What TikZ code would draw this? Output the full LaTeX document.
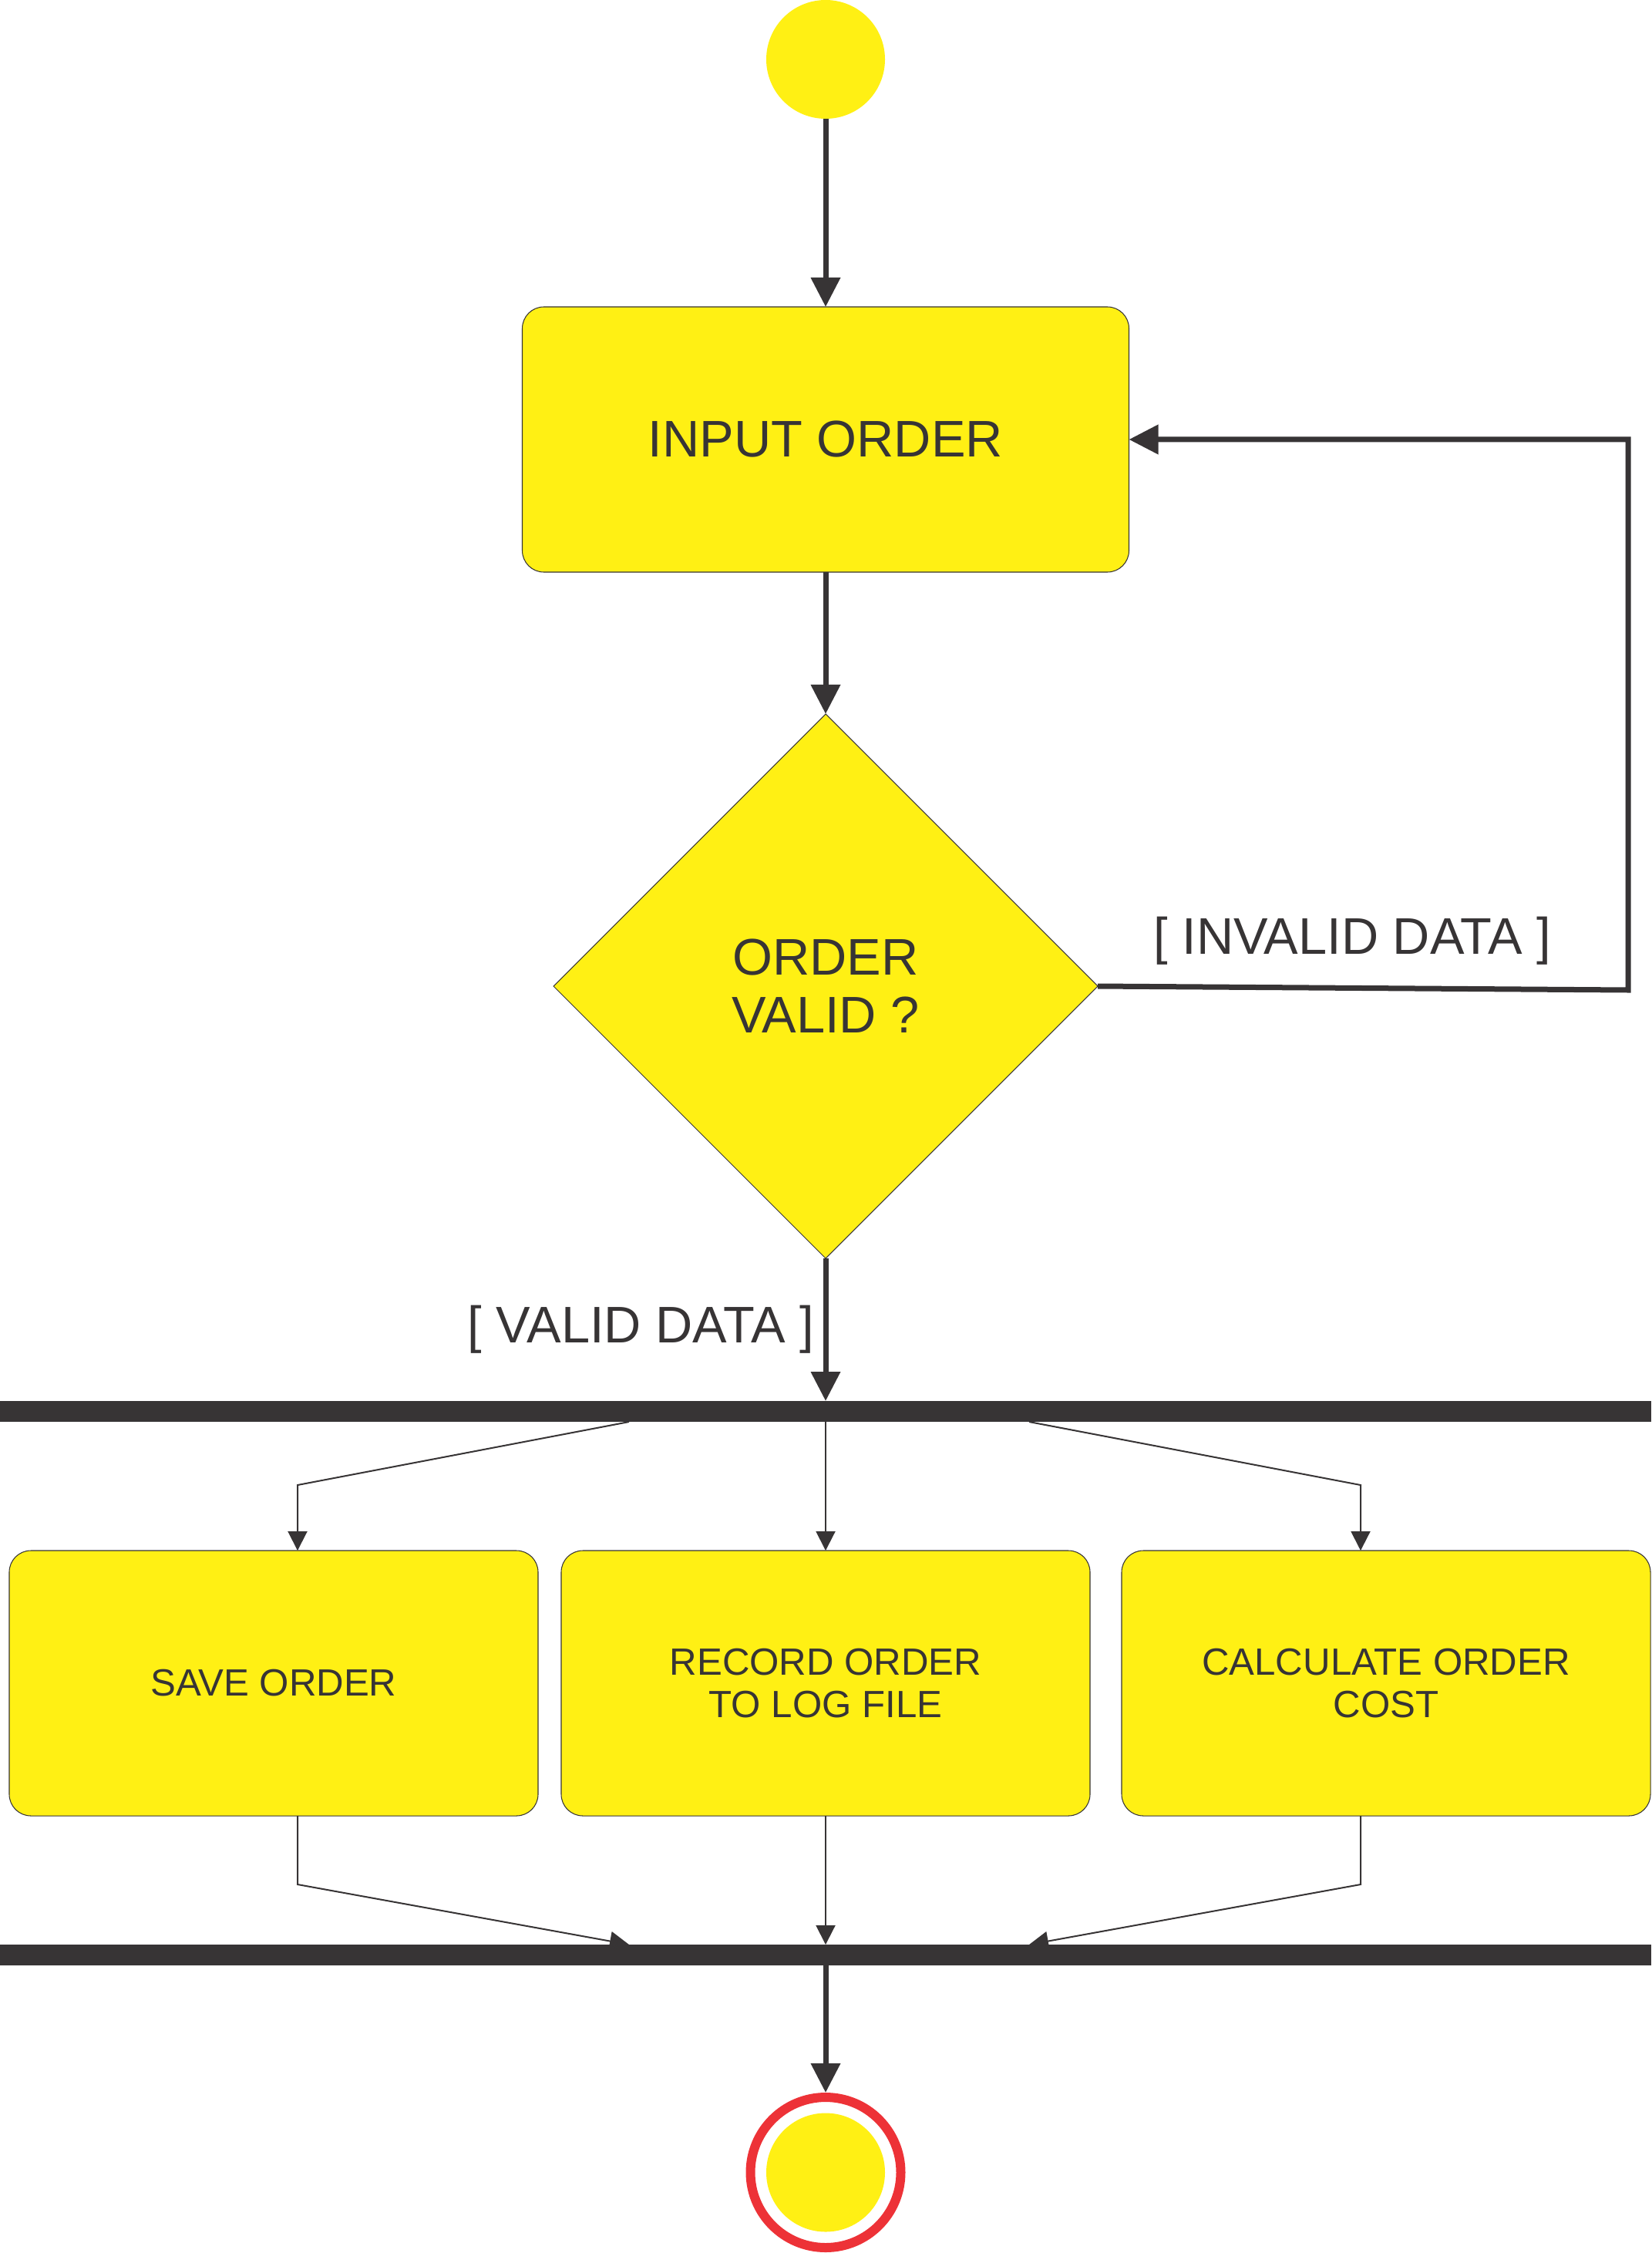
\documentclass[tikz,border=0pt]{standalone}
\usepackage{fontspec}
\setmainfont{Liberation Sans}
\usetikzlibrary{shapes.geometric, arrows.meta, positioning}

\definecolor{umlyellow}{HTML}{FFF014}
\definecolor{umlgray}{HTML}{373435}
\definecolor{umlred}{HTML}{ED3237}

\begin{document}
\begin{tikzpicture}[align=center, text=umlgray,
    startnode/.style={circle, fill=umlyellow, minimum size=1.54cm, inner sep=0pt, outer sep=0pt},
    actbox/.style={draw=umlgray, line width=0.3pt, rectangle, rounded corners=0.28cm, fill=umlyellow, inner sep=0pt, outer sep=0pt},
    syncbar/.style={rectangle, fill=umlgray, minimum width=21.42cm, minimum height=0.27cm, inner sep=0pt, outer sep=0pt},
    bigflow/.style={-{Triangle[length=0.38cm, width=0.37cm]}, line width=0.07cm, umlgray},
    thinflow/.style={-{Triangle[length=0.25cm, width=0.25cm]}, line width=0.02cm, umlgray},
    bigfont/.style={font=\fontsize{19}{21.3}\selectfont},
    smallfont/.style={font=\fontsize{14}{15.9}\selectfont}]

    \useasboundingbox (0,0) rectangle (21.42,-29.22);

    \node [startnode] (start) at (10.71,-0.77) {};

    \node [actbox, bigfont, minimum width=7.87cm, minimum height=3.44cm, below=2.44cm of start] (input)
      {INPUT ORDER};

    \node [diamond, draw=umlgray, line width=0.3pt, fill=umlyellow, minimum size=7.06cm, inner sep=0pt, outer sep=0pt, bigfont, below=1.84cm of input] (valid)
      {ORDER\\ VALID ?};

    \node [syncbar, below=1.85cm of valid] (fork) {};

    \node [actbox, smallfont, minimum width=6.86cm, minimum height=3.44cm, below=1.67cm of fork] (record)
      {RECORD ORDER\\ TO LOG FILE};
    \node [actbox, smallfont, minimum width=6.86cm, minimum height=3.44cm, left=0.30cm of record] (save)
      {SAVE ORDER};
    \node [actbox, smallfont, minimum width=6.86cm, minimum height=3.44cm, right=0.41cm of record] (cost)
      {CALCULATE ORDER\\ COST};

    \node [syncbar, below=1.67cm of record] (join) {};

    \node [circle, draw=umlred, line width=0.12cm, minimum size=1.95cm, inner sep=0pt, outer sep=0.06cm, below=1.65cm of join] (finish) {};
    \node [startnode] (finishdot) at (finish) {};

    % main flow
    \draw [bigflow] (start) -- (input);
    \draw [bigflow] (input) -- (valid);
    \draw [bigflow] (valid) -- node [left, bigfont] {[ VALID DATA ]} (fork);

    % loop back
    \coordinate (loopc) at (21.12,-12.84);
    \draw [bigflow] (valid.east) -- node [above=0.15cm, pos=0.48, bigfont] {[ INVALID DATA ]} (loopc) |- (input.east);

    % fork
    \coordinate (bendsl) at (3.86,-19.26);
    \coordinate (bendsr) at (17.65,-19.26);
    \draw [thinflow] ([xshift=-2.55cm]fork.south) -- (bendsl) -- (bendsl |- save.north);
    \draw [thinflow] (fork) -- (record);
    \draw [thinflow] ([xshift=2.64cm]fork.south) -- (bendsr) -- (bendsr |- cost.north);

    % join
    \coordinate (bendjl) at (3.86,-24.44);
    \coordinate (bendjr) at (17.65,-24.44);
    \draw [thinflow] (save.south -| bendjl) -- (bendjl) -- ([xshift=-2.55cm]join.north);
    \draw [thinflow] (record) -- (join);
    \draw [thinflow] (cost.south -| bendjr) -- (bendjr) -- ([xshift=2.64cm]join.north);

    \draw [bigflow] (join) -- (finish);
  \end{tikzpicture}
\end{document}
